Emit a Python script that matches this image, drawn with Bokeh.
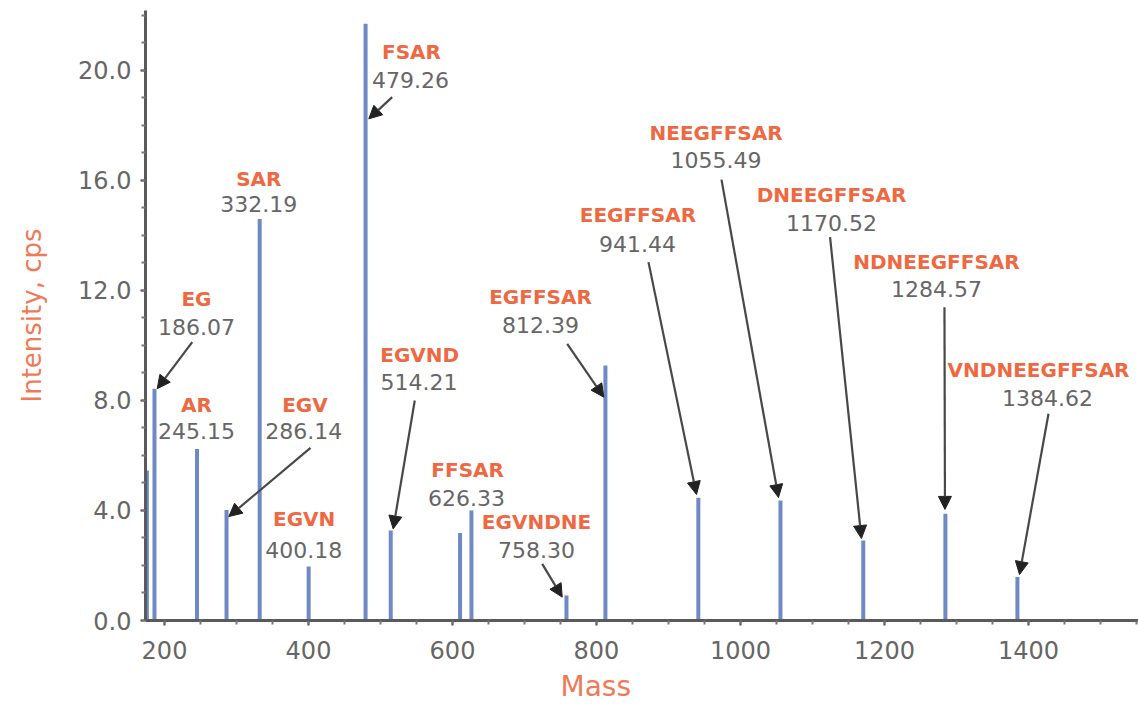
from bokeh.plotting import figure
from bokeh.models import (Range1d, FixedTicker, PrintfTickFormatter, Arrow, NormalHead,
                          ColumnDataSource, Title)
from bokeh.core.properties import value
from bokeh.embed import file_html
from bokeh.resources import INLINE

# ---- spectrum data (mass, intensity in cps) ----
masses = [175.5, 186.07, 245.15, 286.14, 332.19, 400.18, 479.26, 514.21, 610.5,
          626.33, 758.30, 812.39, 941.44, 1055.49, 1170.52, 1284.57, 1384.62]
intensities = [5.45, 8.43, 6.24, 4.02, 14.6, 1.96, 21.7, 3.27, 3.18,
               4.0, 0.91, 9.27, 4.46, 4.36, 2.91, 3.88, 1.58]

# ---- annotated fragments ----
frag_names = ["EG", "AR", "EGV", "EGVN", "SAR", "FSAR", "EGVND", "FFSAR", "EGVNDNE",
              "EGFFSAR", "EEGFFSAR", "NEEGFFSAR", "DNEEGFFSAR", "NDNEEGFFSAR", "VNDNEEGFFSAR"]
frag_masses = ["186.07", "245.15", "286.14", "400.18", "332.19", "479.26", "514.21", "626.33",
               "758.30", "812.39", "941.44", "1055.49", "1170.52", "1284.57", "1384.62"]

# label placement (data units)
label_x = [244.4, 244.4, 395.0, 394.0, 331.0, 543.0, 554.5, 621.0, 716.7,
           722.2, 857.5, 966.1, 1126.4, 1272.2, 1414.0]
value_x = [244.4, 244.4, 393.5, 393.5, 331.0, 541.7, 553.5, 619.4, 716.7,
           722.2, 857.0, 966.1, 1126.4, 1272.2, 1426.4]
name_y = [11.70, 7.82, 7.82, 3.70, 16.06, 20.67, 9.64, 5.48, 3.57,
          11.75, 14.73, 17.73, 15.48, 13.05, 9.12]
value_y = [10.69, 6.88, 6.88, 2.57, 15.13, 19.64, 8.67, 4.45, 2.55,
           10.73, 13.70, 16.75, 14.46, 12.04, 8.08]

# arrows (start -> tip), data units
arrow_x0 = [238.5, 402.8, 516.2, 547.6, 724.6, 759.3, 872.2, 973.6, 1124.4, 1283.3, 1427.8]
arrow_y0 = [10.12, 6.28, 19.03, 8.00, 2.06, 10.06, 13.03, 16.03, 13.94, 11.39, 7.52]
arrow_x1 = [189.9, 289.3, 483.7, 517.6, 752.4, 810.1, 938.9, 1052.8, 1168.0, 1284.0, 1387.5]
arrow_y1 = [8.43, 3.78, 18.24, 3.33, 0.85, 8.12, 4.58, 4.47, 2.98, 4.04, 1.67]

y_ticks = [0, 4, 8, 12, 16, 20]
x_ticks = [200, 400, 600, 800, 1000, 1200, 1400]

ORANGE = "#ee6842"
ORANGE_LIGHT = "#f07a58"
GREY_TXT = "#666666"
FONT = "DejaVu Sans"

p = figure(width=1138, height=714, output_backend="svg", toolbar_location=None,
           x_range=Range1d(173.6, 1552.8), y_range=Range1d(0, 22.18),
           min_border_left=145, min_border_right=0, min_border_top=10, min_border_bottom=94)
p.outline_line_color = None
p.xgrid.visible = False
p.ygrid.visible = False
p.background_fill_color = "white"
p.border_fill_color = "white"

# peaks
src = ColumnDataSource(dict(x=masses, top=intensities, base=[0] * len(masses)))
p.segment(x0="x", y0="base", x1="x", y1="top", source=src,
          line_color="#6f89c5", line_width=4)

# arrows
for x0, y0, x1, y1 in zip(arrow_x0, arrow_y0, arrow_x1, arrow_y1):
    p.add_layout(Arrow(x_start=x0, y_start=y0, x_end=x1, y_end=y1,
                       line_color="#484848", line_width=2.2,
                       end=NormalHead(size=13, fill_color="#222222", line_color="#222222",
                                      line_width=1)))

# labels
lsrc = ColumnDataSource(dict(lx=label_x, vx=value_x, ny=name_y, vy=value_y,
                             name=frag_names, mass=frag_masses))
p.text(x="lx", y="ny", text="name", source=lsrc, text_font=value(FONT),
       text_font_style="bold", text_font_size="20px", text_color=ORANGE,
       text_align="center", text_baseline="middle")
p.text(x="vx", y="vy", text="mass", source=lsrc, text_font=value(FONT),
       text_font_size="22px", text_color=GREY_TXT,
       text_align="center", text_baseline="middle")

# axes
for ax in (p.xaxis[0], p.yaxis[0]):
    ax.axis_line_color = "#5a5a5a"
    ax.axis_line_width = 3
    ax.major_tick_line_color = "#444444"
    ax.major_tick_line_width = 2
    ax.major_tick_in = 0
    ax.major_tick_out = 5
    ax.minor_tick_line_color = "#777777"
    ax.minor_tick_line_width = 2
    ax.minor_tick_in = 0
    ax.minor_tick_out = 4
    ax.major_label_text_font = FONT
    ax.major_label_text_font_size = "24px"
    ax.major_label_text_color = GREY_TXT

p.xaxis.ticker = FixedTicker(ticks=x_ticks, minor_ticks=list(range(200, 1551, 50)))
p.xaxis.major_label_standoff = 15
p.yaxis.ticker = FixedTicker(ticks=y_ticks, minor_ticks=list(range(0, 23)))
p.yaxis.formatter = PrintfTickFormatter(format="%.1f")
p.yaxis.major_label_standoff = 9
p.yaxis.axis_label = "Intensity, cps"
p.yaxis.axis_label_text_font = FONT
p.yaxis.axis_label_text_font_style = "normal"
p.yaxis.axis_label_text_font_size = "26px"
p.yaxis.axis_label_text_color = ORANGE_LIGHT
p.yaxis.axis_label_standoff = 28

p.add_layout(Title(text="Mass", align="left", offset=415, text_font=FONT,
                   text_font_size="28px", text_font_style="normal",
                   text_color=ORANGE_LIGHT, standoff=12), "below")

open("out.html", "w").write(file_html(p, INLINE))
